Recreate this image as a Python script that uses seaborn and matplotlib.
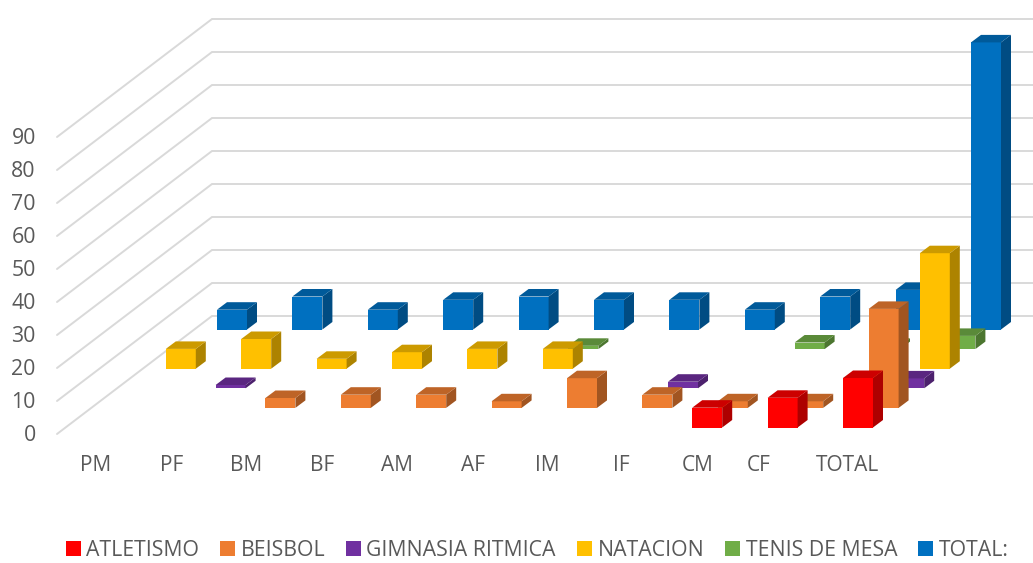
import numpy as np
import pandas as pd
import matplotlib
matplotlib.use("Agg")
import matplotlib.pyplot as plt
from matplotlib.colors import to_rgb
from matplotlib.patches import Patch
import seaborn as sns

# datos
categorias = ["PM", "PF", "BM", "BF", "AM", "AF", "IM", "IF", "CM", "CF", "TOTAL"]
atletismo = [0, 0, 0, 0, 0, 0, 0, 0, 6, 9, 15]
beisbol = [0, 0, 3, 4, 4, 2, 9, 4, 2, 2, 30]
gimnasia = [0, 1, 0, 0, 0, 0, 0, 2, 0, 0, 3]
natacion = [6, 9, 3, 5, 6, 6, 0, 0, 0, 0, 35]
tenis = [0, 0, 0, 0, 0, 1, 0, 0, 2, 1, 4]
total = [6, 10, 6, 9, 10, 9, 9, 6, 10, 12, 87]

series_nombres = ["ATLETISMO", "BEISBOL", "GIMNASIA RITMICA", "NATACION", "TENIS DE MESA", "TOTAL:"]
series_valores = [atletismo, beisbol, gimnasia, natacion, tenis, total]
colores = ["#FF0000", "#ED7D31", "#7030A0", "#FFC000", "#70AD47", "#0070C0"]
valores_eje = list(range(0, 100, 10))

# geometria de la perspectiva, en pixeles
W, H = 1033, 563
AX_LEFT, AX_BOTTOM = 40, 445
X_PM, PX_CAT, PX_UNIT = 104, 75.4, 3.3
Y_BASE = 427.5
PASO_X, PASO_Y = 25.6, 19.6
FONDO_X, FONDO_Y = 10, 7.5
ANCHO = 30
GRIS_TXT = "#595959"
GRIS_LINEA = "#D9D9D9"

sns.set_theme(style="white")
plt.rcParams["font.family"] = ["Open Sans", "DejaVu Sans"]

fig = plt.figure(figsize=(W / 100, H / 100), dpi=100)
ax = fig.add_axes([AX_LEFT / W, (H - AX_BOTTOM) / H, (W - AX_LEFT) / W, AX_BOTTOM / H])


def a_x(px):
    return (px - X_PM) / PX_CAT


def a_y(py):
    return (Y_BASE - py) / PX_UNIT


dx_serie, dy_serie = PASO_X / PX_CAT, PASO_Y / PX_UNIT
dx_fondo, dy_fondo = FONDO_X / PX_CAT, FONDO_Y / PX_UNIT

# de atras hacia adelante para que tapen bien
for k in range(len(series_valores) - 1, -1, -1):
    df = pd.DataFrame({"grupo": categorias, "valor": series_valores[k]})
    df = df[df["valor"] > 0]
    antes = len(ax.patches)
    sns.barplot(data=df, x="grupo", y="valor", order=categorias, color=colores[k],
                saturation=1, width=ANCHO / PX_CAT, linewidth=0, ax=ax)
    rgb = np.array(to_rgb(colores[k]))
    z = 10 + (len(series_valores) - k)
    for bar in ax.patches[antes:]:
        x0 = bar.get_x() + k * dx_serie
        y0 = k * dy_serie
        alto = bar.get_height()
        x1 = x0 + bar.get_width()
        bar.set_x(x0)
        bar.set_y(y0)
        bar.set_zorder(z)
        ax.fill([x1, x1 + dx_fondo, x1 + dx_fondo, x1],
                [y0, y0 + dy_fondo, y0 + alto + dy_fondo, y0 + alto],
                color=rgb * 0.68, lw=0, zorder=z)
        ax.fill([x0, x1, x1 + dx_fondo, x0 + dx_fondo],
                [y0 + alto, y0 + alto, y0 + alto + dy_fondo, y0 + alto + dy_fondo],
                color=rgb * 0.8, lw=0, zorder=z)

# paredes: diagonal del piso y linea del fondo
for v in valores_eje:
    y_frente = a_y(434) + v
    y_atras = a_y(316) + v
    ax.plot([a_x(57), a_x(212), a_x(W)], [y_frente, y_atras, y_atras],
            color=GRIS_LINEA, lw=1.4, zorder=1, solid_joinstyle="miter")

ax.set_xlim(a_x(AX_LEFT), a_x(W))
ax.set_ylim(a_y(AX_BOTTOM), a_y(0))
sns.despine(ax=ax, left=True, bottom=True)
ax.set_xlabel("")
ax.set_ylabel("")

desplaza_etiqueta = [-8, -8, -9, -8, -9, -8, -9, -10, -10, -24, -11]
ax.set_xticks([i + d / PX_CAT for i, d in enumerate(desplaza_etiqueta)])
ax.set_xticklabels(categorias)
ax.set_yticks([a_y(433) + v for v in valores_eje])
ax.set_yticklabels(valores_eje)
ax.tick_params(axis="x", length=0, pad=7, labelsize=15, labelcolor=GRIS_TXT)
ax.tick_params(axis="y", length=0, pad=3, labelsize=15.3, labelcolor=GRIS_TXT)

manijas = [Patch(color=c, lw=0) for c in colores]
fig.legend(manijas, series_nombres, ncol=6, loc="lower center", bbox_to_anchor=(0.52, -0.031),
           frameon=False, fontsize=15.3, labelcolor=GRIS_TXT, handlelength=0.7, handleheight=0.7,
           handletextpad=0.25, columnspacing=1.0)

fig.savefig("out.png", dpi=100)
